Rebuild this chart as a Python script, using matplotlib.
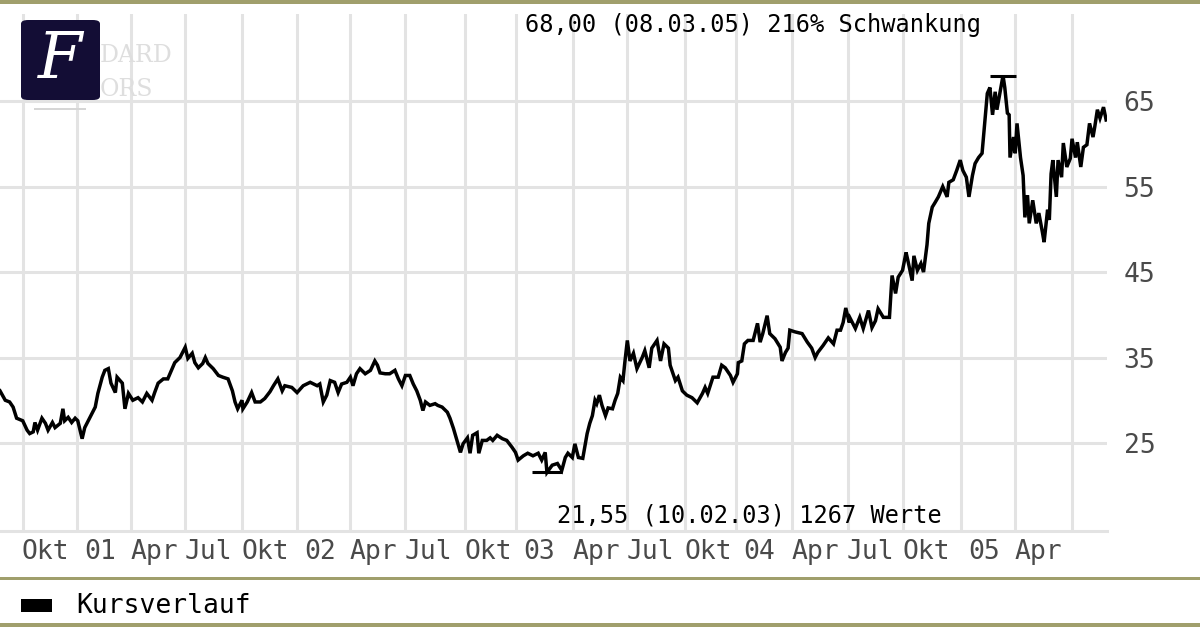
import matplotlib
matplotlib.use("Agg")
import matplotlib.pyplot as plt
import matplotlib.transforms as mtransforms
from matplotlib.patches import FancyBboxPatch, Rectangle

# Kursverlauf: Handelstag (0..1266) und Schlusskurs
tag = [0, 6, 11, 15, 19, 26, 31, 34, 38, 40, 43, 48, 52, 55, 60, 63, 69, 72, 74, 78,
       82, 86, 89, 94, 97, 101, 105, 109, 112, 117, 120, 124, 127, 132, 134, 140, 143, 147, 152, 158,
       163, 168, 174, 177, 181, 187, 192, 197, 200, 206, 212, 215, 220, 223, 227, 232, 235, 238, 244, 250,
       255, 261, 266, 269, 272, 277, 278, 283, 288, 292, 298, 303, 309, 313, 318, 323, 326, 334, 340, 347,
       355, 363, 366, 370, 374, 378, 383, 387, 391, 397, 401, 404, 408, 412, 418, 424, 429, 432, 435, 441,
       446, 452, 456, 460, 464, 469, 473, 477, 481, 484, 487, 492, 498, 501, 506, 512, 515, 519, 523, 527,
       530, 535, 538, 541, 546, 548, 552, 557, 561, 564, 569, 575, 580, 586, 590, 593, 599, 604, 610, 616,
       620, 624, 626, 632, 638, 643, 647, 650, 655, 658, 662, 667, 672, 675, 678, 681, 683, 686, 689, 693,
       696, 701, 704, 707, 710, 713, 715, 718, 721, 725, 729, 735, 738, 743, 746, 752, 756, 760, 765, 767,
       773, 776, 781, 786, 792, 798, 804, 807, 810, 816, 822, 826, 830, 836, 839, 844, 845, 849, 852, 856,
       862, 867, 870, 873, 878, 881, 887, 893, 895, 899, 902, 904, 910, 918, 924, 929, 933, 936, 942, 948,
       954, 958, 962, 965, 968, 972, 973, 979, 984, 988, 994, 998, 1002, 1005, 1011, 1018, 1021, 1025, 1028, 1033,
       1037, 1039, 1044, 1046, 1050, 1054, 1057, 1061, 1063, 1067, 1070, 1074, 1079, 1084, 1086, 1091, 1095, 1099, 1102, 1106,
       1109, 1113, 1116, 1120, 1124, 1126, 1130, 1133, 1136, 1139, 1141, 1145, 1148, 1150, 1153, 1155, 1156, 1160, 1162, 1164,
       1168, 1171, 1173, 1176, 1178, 1182, 1186, 1189, 1193, 1195, 1199, 1201, 1203, 1205, 1209, 1211, 1215, 1217, 1221, 1225,
       1227, 1231, 1233, 1237, 1240, 1244, 1247, 1251, 1253, 1256, 1259, 1263, 1266]
kurs = [31.1, 30.0, 29.8, 29.2, 27.9, 27.6, 26.5, 26.1, 26.3, 27.4, 26.5, 27.9, 27.3, 26.5, 27.4, 26.8, 27.3, 29.0, 27.6, 28.0,
        27.4, 27.9, 27.6, 25.5, 26.8, 27.6, 28.4, 29.2, 30.8, 32.7, 33.5, 33.7, 32.0, 30.9, 32.7, 32.0, 29.0, 30.8, 30.0, 30.3,
        29.8, 30.8, 30.0, 30.9, 32.0, 32.5, 32.5, 33.7, 34.4, 35.0, 36.2, 34.9, 35.5, 34.4, 33.8, 34.3, 35.0, 34.3, 33.7, 32.9,
        32.7, 32.5, 31.1, 29.8, 29.0, 30.0, 29.0, 29.8, 30.9, 29.8, 29.8, 30.2, 31.0, 31.7, 32.5, 31.1, 31.7, 31.5, 30.9, 31.7,
        32.1, 31.7, 31.9, 29.8, 30.6, 32.3, 32.1, 30.9, 31.9, 32.1, 32.7, 31.7, 33.1, 33.7, 33.1, 33.5, 34.6, 34.1, 33.2, 33.1,
        33.1, 33.5, 32.5, 31.7, 32.9, 32.9, 31.9, 31.1, 30.0, 28.8, 29.8, 29.4, 29.6, 29.4, 29.2, 28.6, 27.9, 26.7, 25.3, 23.9,
        24.9, 25.6, 23.8, 25.9, 26.2, 23.8, 25.3, 25.3, 25.6, 25.3, 25.9, 25.5, 25.3, 24.5, 23.9, 23.0, 23.5, 23.8, 23.5, 23.8,
        23.0, 23.9, 21.55, 22.4, 22.6, 21.8, 23.3, 23.8, 23.3, 24.9, 23.3, 23.2, 26.1, 27.3, 28.2, 30.0, 29.6, 30.6, 29.4, 28.2,
        29.1, 29.0, 30.0, 30.8, 32.7, 32.3, 34.3, 37.0, 34.6, 35.5, 33.7, 35.0, 35.8, 33.8, 36.1, 37.0, 34.6, 36.6, 36.1, 34.1,
        32.3, 32.7, 31.1, 30.6, 30.3, 29.7, 30.8, 31.5, 30.8, 32.7, 32.7, 34.1, 33.8, 32.9, 32.1, 33.1, 34.4, 34.6, 36.6, 37.0,
        37.0, 39.0, 36.8, 37.8, 39.9, 37.8, 37.2, 36.2, 34.6, 35.6, 36.1, 38.2, 38.0, 37.8, 36.8, 36.1, 35.0, 35.6, 36.4, 37.3,
        36.6, 38.2, 38.2, 39.1, 40.8, 39.1, 39.6, 38.4, 39.7, 38.4, 40.5, 38.5, 39.3, 40.7, 39.7, 39.7, 44.6, 42.5, 44.4, 45.2,
        47.3, 46.4, 44.0, 46.9, 45.2, 46.0, 45.0, 48.2, 50.7, 52.6, 53.1, 53.8, 55.0, 53.8, 55.5, 55.8, 56.9, 58.1, 56.9, 56.1,
        53.8, 56.3, 57.7, 58.4, 58.9, 61.2, 65.9, 66.6, 63.4, 66.1, 64.0, 66.3, 68.0, 66.6, 63.6, 63.4, 58.4, 60.8, 58.9, 62.4,
        58.4, 56.3, 51.4, 54.0, 50.7, 53.4, 50.7, 51.9, 49.7, 48.5, 52.3, 51.1, 56.5, 58.1, 53.8, 58.1, 56.1, 60.1, 57.3, 58.3,
        60.6, 58.4, 60.2, 57.3, 59.6, 59.9, 62.4, 60.8, 62.0, 64.0, 63.0, 64.3, 62.8]

# Quartalsanfaenge (Handelstag) und Beschriftung
quartal_tag = [26, 88, 150, 212, 277, 340, 401, 464, 532, 591,
               656, 718, 784, 842, 907, 970, 1034, 1100, 1162, 1227]
quartal_label = ["Okt", "01", "Apr", "Jul", "Okt", "02", "Apr", "Jul", "Okt", "03",
                 "Apr", "Jul", "Okt", "04", "Apr", "Jul", "Okt", "05", "Apr", ""]
y_ticks = [25, 35, 45, 55, 65]

hoch_text = "68,00 (08.03.05) 216% Schwankung"
tief_text = "21,55 (10.02.03) 1267 Werte"
legende = "Kursverlauf"

mono = "DejaVu Sans Mono"
grid_col = "#e3e3e3"
olive = "#a09f6c"

fig = plt.figure(figsize=(12, 6.27), dpi=100)
ax = fig.add_axes([0, 1 - 531 / 627, 1107 / 1200, 517 / 627])

ax.plot(tag, kurs, color="black", lw=2.5, zorder=3, solid_joinstyle="miter")

# Markierung Hoch / Tief
i_max = kurs.index(max(kurs))
i_min = kurs.index(min(kurs))
ax.hlines(max(kurs), tag[i_max] - 15, tag[i_max] + 15, color="black", lw=2.2, zorder=3)
ax.hlines(min(kurs), tag[i_min] - 17, tag[i_min] + 17, color="black", lw=2.2, zorder=3)

ax.set_xlim(0, 1267)
ax.set_ylim(14.7, 75.2)
ax.set_xticks(quartal_tag)
ax.set_xticklabels(quartal_label, fontfamily=mono, fontsize=19, color="#4a4a4a")
ax.set_yticks(y_ticks)
ax.set_yticklabels([str(v) for v in y_ticks], fontfamily=mono, fontsize=19, color="#4a4a4a")
ax.yaxis.tick_right()
ax.tick_params(axis="both", length=0)
ax.tick_params(axis="y", pad=12)
ax.tick_params(axis="x", pad=6)
shift = mtransforms.ScaledTranslation(23 / 100, 0, fig.dpi_scale_trans)
for lab in ax.get_xticklabels():
    lab.set_transform(lab.get_transform() + shift)

ax.grid(True, color=grid_col, lw=2.2, zorder=0)
for s in ["top", "left", "right"]:
    ax.spines[s].set_visible(False)
ax.spines["bottom"].set_color(grid_col)
ax.spines["bottom"].set_linewidth(2.2)

fig.text(525 / 1200, 1 - 25 / 627, hoch_text, fontfamily=mono, fontsize=17,
         color="black", ha="left", va="center")
fig.text(557 / 1200, 1 - 516 / 627, tief_text, fontfamily=mono, fontsize=17,
         color="black", ha="left", va="center")

# Rahmenlinien
for y0, h in [(623, 4), (577, 3), (0, 4)]:
    fig.add_artist(Rectangle((0, 1 - (y0 + h) / 627), 1, h / 627,
                             transform=fig.transFigure, color=olive, lw=0))

# Legende
fig.add_artist(Rectangle((21 / 1200, 1 - 612 / 627), 31 / 1200, 13 / 627,
                         transform=fig.transFigure, color="black", lw=0))
fig.text(76 / 1200, 1 - 606 / 627, legende, fontfamily=mono, fontsize=19,
         color="black", ha="left", va="center")

# Wasserzeichen und Logo
fig.text(100 / 1200, 1 - 55 / 627, "DARD", fontfamily="DejaVu Serif", fontsize=17,
         color="#dedede", ha="left", va="center")
fig.text(100 / 1200, 1 - 90 / 627, "ORS", fontfamily="DejaVu Serif", fontsize=17,
         color="#dedede", ha="left", va="center")
fig.add_artist(Rectangle((34 / 1200, 1 - 110 / 627), 52 / 1200, 2 / 627,
                         transform=fig.transFigure, color="#d6d6d6", lw=0))
fig.add_artist(FancyBboxPatch((21 / 1200, 1 - 100 / 627), 79 / 1200, 80 / 627,
                              boxstyle="round,pad=0,rounding_size=0.006",
                              transform=fig.transFigure, color="#130d35", lw=0))
fig.text(60 / 1200, 1 - 61 / 627, "F", fontfamily="DejaVu Serif", fontstyle="italic",
         fontsize=46, color="white", ha="center", va="center")

fig.savefig("out.png", dpi=100, facecolor="white")
plt.close(fig)
